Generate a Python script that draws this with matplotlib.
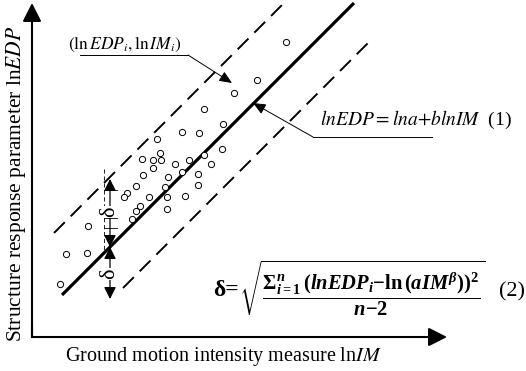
import matplotlib
matplotlib.use("Agg")
import matplotlib.pyplot as plt
import numpy as np

# ---------------- data (schematic units, origin at axis corner) ----------------
ln_im = [254, 225, 202, 172, 191, 150, 167, 125, 190, 128, 110, 121, 129, 157, 172,
         143, 179, 121, 150, 166, 111, 136, 166, 104, 133, 95, 117, 135, 153, 92,
         108, 104, 135, 100, 56, 34, 55, 28]
ln_edp = [295, 257, 244, 228, 213, 205, 204, 198, 188, 184, 178, 177, 177, 177, 182,
          173, 173, 169, 165, 163, 162, 160, 152, 151, 150, 144, 140, 140, 141, 140,
          131, 126, 128, 118, 111, 83, 84, 53]
ln_a = 12          # intercept of fitted line
b = 1.0            # slope
delta_up = 70      # offset of upper dashed bound
delta_lo = 54      # offset of lower dashed bound
solid_range = [30, 322]
upper_range = [22, 252]
lower_range = [91, 337]
delta_x = 78       # position of the delta dimension arrows

xlabel = "Ground motion intensity measure ln$\\mathit{IM}$"
ylabel = "Structure response parameter ln$\\mathit{EDP}$"

plt.rcParams['mathtext.fontset'] = 'stix'
plt.rcParams['mathtext.rm'] = 'Liberation Serif:bold'
plt.rcParams['mathtext.it'] = 'Liberation Serif:italic:bold'
plt.rcParams['mathtext.bf'] = 'Liberation Serif:bold'
plt.rcParams['lines.scale_dashes'] = False
plt.rcParams['font.family'] = ['Liberation Serif', 'DejaVu Serif']

fig = plt.figure(figsize=(5.26, 3.71), dpi=100)
ax = fig.add_axes([0, 0, 1, 1])
ax.set_xlim(-32, 494)
ax.set_ylim(-34, 337)
ax.axis('off')

# axes arrows
arrow_kw = dict(arrowstyle='-|>,head_length=0.75,head_width=0.38', lw=1.5,
                color='black', shrinkA=0, shrinkB=0, mutation_scale=15)
ax.annotate('', xy=(0, 334), xytext=(0, 0), arrowprops=arrow_kw)
ax.annotate('', xy=(415, 0), xytext=(0, 0), arrowprops=arrow_kw)
ax.plot([0, 0], [0, 10], color='black', lw=1.5, solid_capstyle='projecting')

# regression lines
xs = np.array(solid_range)
ax.plot(xs, ln_a + b * xs, color='black', lw=2.3, solid_capstyle='butt')
xu = np.array(upper_range)
ax.plot(xu, ln_a + b * xu + delta_up, color='black', lw=1.4, dashes=(11, 6))
xl = np.array(lower_range)
ax.plot(xl, ln_a + b * xl - delta_lo, color='black', lw=1.4, dashes=(11, 6))

# scatter
ax.scatter(ln_im, ln_edp, s=20, facecolors='white', edgecolors='black',
           linewidths=0.7, zorder=3)

# delta dimension arrows
y_mid = ln_a + b * delta_x
small_arrow = dict(arrowstyle='-|>,head_length=0.6,head_width=0.3', lw=0.9,
                   color='black', shrinkA=0, shrinkB=0, mutation_scale=12)
ax.annotate('', xy=(delta_x, y_mid + delta_up - 2), xytext=(delta_x, y_mid + delta_up / 2),
            arrowprops=small_arrow)
ax.annotate('', xy=(delta_x, y_mid), xytext=(delta_x, y_mid + delta_up / 2),
            arrowprops=small_arrow)
ax.annotate('', xy=(delta_x, y_mid), xytext=(delta_x, y_mid - delta_lo / 2),
            arrowprops=small_arrow)
ax.annotate('', xy=(delta_x, y_mid - delta_lo + 2), xytext=(delta_x, y_mid - delta_lo / 2),
            arrowprops=small_arrow)
ax.plot([delta_x - 6, delta_x - 6], [y_mid + delta_up + 8, y_mid - 5], color='black',
        lw=0.6, dashes=(3, 2))
for yy in [y_mid + delta_up - 13, y_mid + 29, y_mid + 19]:
    ax.plot([delta_x - 6, delta_x + 7], [yy, yy], color='black', lw=0.6)
ax.text(delta_x, y_mid + delta_up / 2, 'δ', rotation=90, ha='center', va='center',
        fontsize=16, bbox=dict(facecolor='white', edgecolor='none', pad=0.3))
ax.text(delta_x, y_mid - delta_lo / 2, 'δ', rotation=90, ha='center', va='center',
        fontsize=16, bbox=dict(facecolor='white', edgecolor='none', pad=0.3))

# annotation 1: data point label
ax.text(93, 293, r"$\left(\mathrm{ln}\,EDP_i,\mathrm{ln}\,IM_i\right)$", ha='center',
        va='center', fontsize=12.5, math_fontfamily='stix')
ax.plot([48, 156], [282, 282], color='black', lw=0.7)
ax.annotate('', xy=(200, 254), xytext=(156, 282),
            arrowprops=dict(arrowstyle='-|>,head_length=0.7,head_width=0.3', lw=0.7,
                            color='black', shrinkA=0, shrinkB=0, mutation_scale=11))

# annotation 2: regression equation
ax.text(288, 217, r"$lnEDP{=}lna{+}blnIM$  (1)", ha='left', va='center',
        fontsize=14, math_fontfamily='stix')
ax.plot([400, 281], [200, 200], color='black', lw=0.7)
ax.annotate('', xy=(221, 234), xytext=(281, 200),
            arrowprops=dict(arrowstyle='-|>,head_length=0.7,head_width=0.3', lw=0.7,
                            color='black', shrinkA=0, shrinkB=0, mutation_scale=11))

# equation 2
ax.text(181, 47, 'δ=', ha='left', va='center', fontsize=17, fontweight='bold')
ax.text(207, 49,
        r"$\sqrt{\dfrac{\Sigma_{i=1}^{n}\,(lnEDP_i{-}\mathrm{ln}\,(aIM^{\beta}))^2}{n{-}2}}$",
        ha='left', va='center', fontsize=14.8, math_fontfamily='custom')
ax.text(480, 45, '(2)', ha='center', va='center', fontsize=16)

# axis labels
ax.text(191, -20, xlabel, ha='center', va='center', fontsize=14.5, math_fontfamily='stix')
ax.text(-16, 153, ylabel, ha='center', va='center', fontsize=15.5, rotation=90,
        math_fontfamily='stix')

fig.savefig('out.png', dpi=100)
